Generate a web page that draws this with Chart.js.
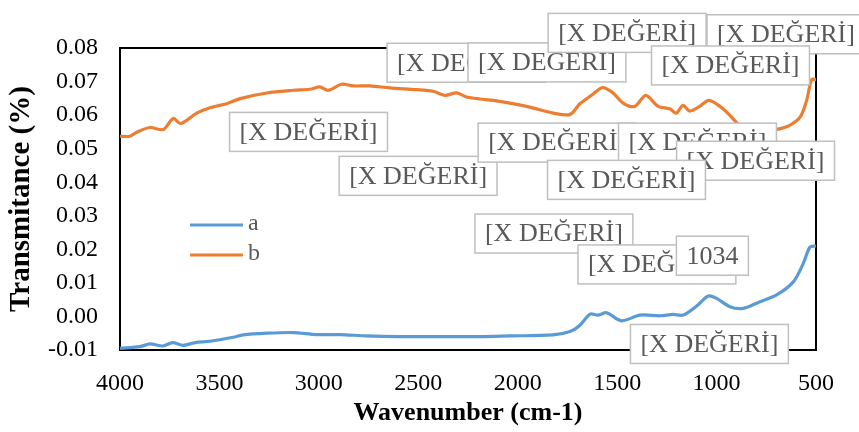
<!DOCTYPE html>
<html>
<head>
<meta charset="utf-8">
<script src="https://cdn.jsdelivr.net/npm/chart.js@4.4.1/dist/chart.umd.min.js"></script>
<style>
  html, body { margin: 0; padding: 0; background: #fff; }
  #wrap { width: 859px; height: 432px; }
</style>
</head>
<body>
<div id="wrap"><canvas id="ftirChart"></canvas></div>
<script>
// ─── Spectrum data ────────────────────────────────────────────────
const waveA = [4000, 3900, 3849, 3784, 3735, 3683, 3623, 3547, 3431, 3381,
               3262, 3130, 3011, 2894, 2760, 2592, 2341, 2190, 2039, 1823,
               1737, 1687, 1636, 1596, 1553, 1478, 1385, 1284, 1219, 1168,
               1100, 1042, 1000, 933, 866, 782, 698, 614, 564, 530, 500];
const transA = [-0.0095, -0.0090, -0.0082, -0.0088, -0.0078, -0.0086, -0.0078, -0.0074, -0.0062, -0.0055,
                -0.0050, -0.0048, -0.0054, -0.0054, -0.0058, -0.0060, -0.0060, -0.0060, -0.0058, -0.0055,
                -0.0045, -0.0026, 0.0007, 0.0004, 0.0011, -0.0013, 0.0004, 0.0002, 0.0006, 0.0004,
                0.0031, 0.0061, 0.0054, 0.0029, 0.0024, 0.0044, 0.0064, 0.0103, 0.0158, 0.0207, 0.0210];

const waveB = [4000, 3950, 3916, 3849, 3782, 3732, 3695, 3614, 3547, 3464,
               3396, 3262, 3129, 3045, 2995, 2953, 2886, 2828, 2743, 2643,
               2509, 2425, 2366, 2307, 2257, 2190, 2123, 1955, 1821, 1737,
               1687, 1629, 1573, 1520, 1470, 1411, 1356, 1294, 1236, 1202,
               1169, 1135, 1085, 1038, 968, 901, 866, 800, 750, 698,
               640, 580, 547, 522, 500];
const transB = [0.0537, 0.0537, 0.0549, 0.0563, 0.0557, 0.0590, 0.0575, 0.0606, 0.0622, 0.0634,
                0.0649, 0.0666, 0.0674, 0.0677, 0.0684, 0.0674, 0.0692, 0.0687, 0.0687, 0.0681,
                0.0676, 0.0671, 0.0659, 0.0666, 0.0654, 0.0648, 0.0644, 0.0626, 0.0606, 0.0602,
                0.0634, 0.0659, 0.0682, 0.0666, 0.0636, 0.0626, 0.0659, 0.0626, 0.0619, 0.0606,
                0.0629, 0.0612, 0.0626, 0.0644, 0.0619, 0.0579, 0.0555, 0.0540, 0.0548, 0.0557,
                0.0567, 0.0594, 0.0644, 0.0706, 0.0706];

const seriesNames = ['a', 'b'];

// data-label callouts, anchored in data units (wavenumber, transmitance)
const labelText  = ['[X DEĞERİ]', '[X DEĞERİ]', '[X DEĞERİ]', '[X DEĞERİ]', '[X DEĞERİ]',
                    '[X DEĞERİ]', '[X DEĞERİ]', '[X DEĞERİ]', '[X DEĞERİ]', '[X DEĞERİ]',
                    '[X DEĞERİ]', '[X DEĞERİ]', '[X DEĞERİ]', '1034', '[X DEĞERİ]'];
const labelWave  = [2260, 1853, 1450, 651, 930, 3052, 2501, 1802, 1096, 804, 1453, 1818, 1300, 1021, 1036];
const labelValue = [0.0756, 0.0757, 0.0845, 0.0841, 0.0748, 0.0550, 0.0419, 0.0518, 0.0518, 0.0464,
                    0.0407, 0.0247, 0.0155, 0.0181, -0.0082];

const COLORS = {
    blue:   '#5B9BD5',
    orange: '#ED7D31',
    text:   '#595959',
    box:    '#BFBFBF'
};
const SERIF = "'Liberation Serif', 'Times New Roman', serif";

// ─── Plugins ──────────────────────────────────────────────────────
const frame = {
    id: 'frame',
    beforeDatasetsDraw(chart) {
        const { ctx, chartArea: a } = chart;
        ctx.save();
        ctx.strokeStyle = '#000';
        ctx.lineWidth = 2;
        ctx.strokeRect(a.left, a.top, a.right - a.left, a.bottom - a.top);
        ctx.restore();
    }
};

const callouts = {
    id: 'callouts',
    afterDraw(chart) {
        const { ctx, scales } = chart;
        ctx.save();
        ctx.font = `26px ${SERIF}`;
        ctx.textAlign = 'center';
        ctx.textBaseline = 'middle';
        labelText.forEach((t, i) => {
            const cx = scales.x.getPixelForValue(labelWave[i]);
            const cy = scales.y.getPixelForValue(labelValue[i]);
            const w = ctx.measureText(t).width + 20;
            const h = 39;
            ctx.fillStyle = '#fff';
            ctx.fillRect(cx - w / 2, cy - h / 2, w, h);
            ctx.strokeStyle = COLORS.box;
            ctx.lineWidth = 1.5;
            ctx.strokeRect(cx - w / 2, cy - h / 2, w, h);
            ctx.fillStyle = COLORS.text;
            ctx.fillText(t, cx, cy + 1);
        });
        ctx.restore();
    }
};

const innerLegend = {
    id: 'innerLegend',
    afterDatasetsDraw(chart) {
        const { ctx, chartArea: a } = chart;
        const colors = [COLORS.blue, COLORS.orange];
        ctx.save();
        ctx.font = `24px ${SERIF}`;
        ctx.textBaseline = 'middle';
        seriesNames.forEach((n, i) => {
            const y = a.top + 177 + i * 30;
            ctx.strokeStyle = colors[i];
            ctx.lineWidth = 3;
            ctx.beginPath();
            ctx.moveTo(a.left + 70, y);
            ctx.lineTo(a.left + 123, y);
            ctx.stroke();
            ctx.fillStyle = COLORS.text;
            ctx.fillText(n, a.left + 128, y - 1);
        });
        ctx.restore();
    }
};

// ─── Chart ────────────────────────────────────────────────────────
new Chart(document.getElementById('ftirChart'), {
    type: 'line',
    data: {
        datasets: [
            {
                label: seriesNames[0],
                data: waveA.map((w, i) => ({ x: w, y: transA[i] })),
                borderColor: COLORS.blue,
                borderWidth: 3.2,
                pointRadius: 0,
                tension: 0.3
            },
            {
                label: seriesNames[1],
                data: waveB.map((w, i) => ({ x: w, y: transB[i] })),
                borderColor: COLORS.orange,
                borderWidth: 3.2,
                pointRadius: 0,
                tension: 0.3
            }
        ]
    },
    options: {
        responsive: true,
        maintainAspectRatio: false,
        animation: false,
        layout: { padding: { top: 48, right: 43, left: 0, bottom: 0 } },
        plugins: {
            legend: { display: false },
            tooltip: { enabled: false }
        },
        scales: {
            x: {
                type: 'linear',
                reverse: true,
                min: 500,
                max: 4000,
                afterFit: s => { s.height = 82; },
                ticks: {
                    stepSize: 500,
                    color: '#000',
                    padding: 19,
                    maxRotation: 0,
                    font: { family: SERIF, size: 24 },
                    callback: v => String(v)
                },
                grid: { display: false, drawTicks: false },
                border: { display: false },
                title: {
                    display: true,
                    text: 'Wavenumber (cm-1)',
                    color: '#000',
                    padding: { top: 0, bottom: 3 },
                    font: { family: SERIF, size: 26, weight: 'bold' }
                }
            },
            y: {
                min: -0.01,
                max: 0.08,
                afterFit: s => { s.width = 120; },
                ticks: {
                    stepSize: 0.01,
                    color: '#000',
                    padding: 22,
                    font: { family: SERIF, size: 24 },
                    callback: v => (Math.abs(v) < 1e-9 ? 0 : v).toFixed(2)
                },
                grid: { display: false, drawTicks: false },
                border: { display: false },
                title: {
                    display: true,
                    text: 'Transmitance (%)',
                    color: '#000',
                    padding: { top: 4, bottom: 0 },
                    font: { family: SERIF, size: 29, weight: 'bold' }
                }
            }
        }
    },
    plugins: [frame, innerLegend, callouts]
});
</script>
</body>
</html>
